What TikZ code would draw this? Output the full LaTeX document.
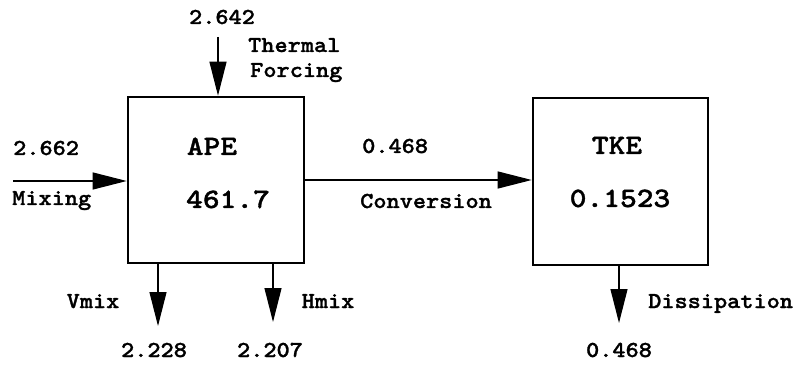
\documentclass[tikz,border=0pt]{standalone}
\usetikzlibrary{arrows.meta}
\usepackage{graphicx}
\usepackage{fontspec}
% heavy slab typewriter face
\newfontfamily\courfont{lmmonolt10-bold.otf}[FakeBold=1.2]
% typewriter labels, widened to a Courier-like pitch
\newcommand\smalltt[1]{\scalebox{1.1}[1]{\fontsize{22.8}{25}\selectfont\courfont #1}}
\newcommand\bigtt[1]{\scalebox{1.14}[1]{\fontsize{28}{30}\selectfont\courfont #1}}
\begin{document}
\begin{tikzpicture}[x=1pt,y=-1pt,
  lbl/.style={inner sep=0pt, anchor=base west},
  ctr/.style={inner sep=0pt, anchor=base},
  store/.style={draw, line width=2.6pt, inner sep=0pt},
  flow/.style={line width=1.2pt, -{Triangle[length=34pt,width=17pt]}}]
\useasboundingbox (0,0) rectangle (798,366);

% energy reservoirs
\node[store, minimum width=176pt, minimum height=166pt] (ape) at (216,180) {};
\node[store, minimum width=175pt, minimum height=167pt] (tke) at (620.5,181.5) {};

\node[ctr] (apename) at (212,155) {\bigtt{APE}};
\node[ctr] (apeval)  at (228,208) {\bigtt{461.7}};
\node[ctr] (tkename) at (617,154) {\bigtt{TKE}};
\node[ctr] (tkeval)  at (620,207) {\bigtt{0.1523}};

% free ends of the flows
\coordinate (thermalsrc) at (218,37);
\coordinate (mixsrc) at (13,181);
\coordinate (vmixend) at (158,326);
\coordinate (hmixend) at (273,322);
\coordinate (dissend) at (619,323);

% flows
\draw[flow] (thermalsrc) -- (thermalsrc |- ape.north);
\draw[flow] (mixsrc) -- (ape.west |- mixsrc);
\draw[flow] (ape.east |- 0,180) -- (tke.west |- 0,180);
\draw[flow] (vmixend |- ape.south) -- (vmixend);
\draw[flow] (hmixend |- ape.south) -- (hmixend);
\draw[flow] (dissend |- tke.south) -- (dissend);

% flow labels
\node[ctr] (thermalval) at (222,24) {\smalltt{2.642}};
\node[lbl] (thermal1) at (248,52) {\smalltt{Thermal}};
\node[lbl] (thermal2) at (250,77) {\smalltt{Forcing}};
\node[lbl] (mixval) at (13,155) {\smalltt{2.662}};
\node[lbl] (mixing) at (12,205) {\smalltt{Mixing}};
\node[lbl] (convval) at (362,153) {\smalltt{0.468}};
\node[lbl] (conv) at (360,208) {\smalltt{Conversion}};
\node[ctr] (vmix) at (93,308) {\smalltt{Vmix}};
\node[ctr] (hmix) at (328,308) {\smalltt{Hmix}};
\node[lbl] (diss) at (648,308) {\smalltt{Dissipation}};
\node[ctr] (vmixval) at (154,357) {\smalltt{2.228}};
\node[ctr] (hmixval) at (270,357) {\smalltt{2.207}};
\node[ctr] (dissval) at (619,357) {\smalltt{0.468}};
\end{tikzpicture}
\end{document}
